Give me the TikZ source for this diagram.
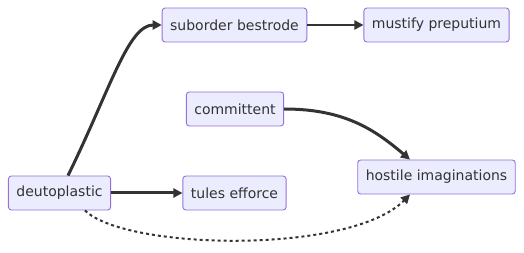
\documentclass[tikz,border=0pt]{standalone}
\usepackage{fontspec}
\setmainfont{DejaVu Sans}
\usetikzlibrary{arrows.meta}
\definecolor{nodefill}{HTML}{ECECFF}
\definecolor{nodeline}{HTML}{9370DB}
\definecolor{ink}{HTML}{333333}
\tikzset{
    box/.style={draw=nodeline, fill=nodefill, line width=0.9pt,
                rounded corners=3pt, minimum height=34pt, inner xsep=8pt,
                text=ink, font=\fontsize{14}{17}\selectfont},
    flow/.style={-{Triangle[length=9pt, width=9pt]}, draw=ink, line width=2pt},
    heavy/.style={flow, line width=3pt},
    hint/.style={flow, dash pattern=on 3pt off 3pt},
}

\begin{document}
\begin{tikzpicture}[x=1pt, y=-1pt]
    \path[use as bounding box] (0,0) rectangle (524,253);

    \node[box] (deut) at (59.5,193) {deutoplastic};
    \node[box] (tules) at (234.5,193) {tules efforce};
    \node[box] (suborder) at (234.5,25) {suborder bestrode};
    \node[box] (committ) at (235,109) {committent};
    \node[box] (mustify) at (436.5,25) {mustify preputium};
    \node[box] (hostile) at (436.5,177) {hostile imaginations};

    \draw[heavy] ([xshift=8.5pt]deut.north) .. controls (110,90) and (128,25) .. (suborder.west);
    \draw[flow] (suborder.east) -- (mustify.west);
    \draw[heavy] (deut.east) -- (tules.west);
    \draw[heavy] (committ.east) .. controls (345,109) and (375,130) .. ([xshift=-26.5pt]hostile.north);
    \draw[hint] ([xshift=25.5pt]deut.south) .. controls (125,250) and (350,255) .. ([xshift=-26.5pt]hostile.south);
\end{tikzpicture}
\end{document}
